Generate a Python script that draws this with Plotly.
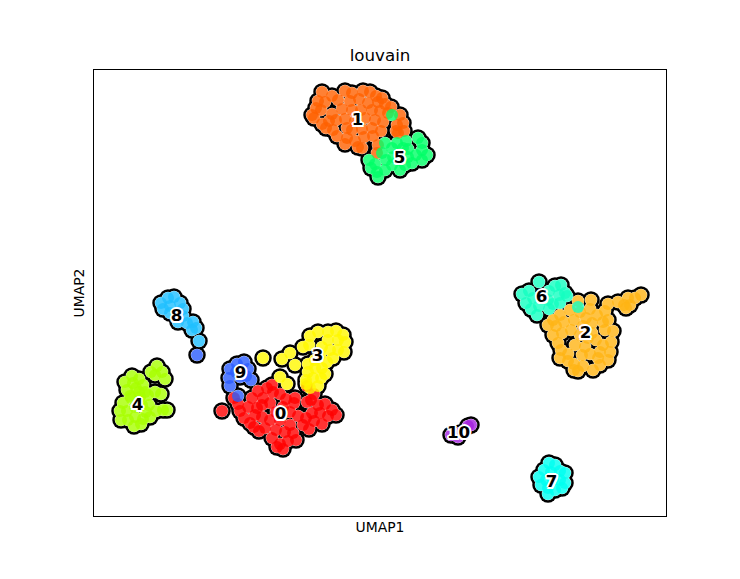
import plotly.graph_objects as go

# cluster points, as (UMAP1, UMAP2) in axis units
cluster_0 = [(234,398),(238,404),(240,411),(244,418),(250,423),(255,415),(248,407),(257,408),(252,398),(258,391),
             (267,388),(273,392),(263,398),(270,403),(262,405),(254,427),(262,417),(270,420),(265,428),(276,430),
             (272,438),(280,444),(283,449),(288,441),(296,440),(293,433),(285,432),(290,425),(280,420),(276,412),
             (283,407),(290,412),(298,416),(286,399),(294,403),(307,402),(311,400),(318,405),(325,404),
             (332,410),(336,415),(328,416),(320,413),(312,413),(306,418),(314,421),(322,424),(309,429),(303,425),
             (295,398),(280,394),(272,385),(222,411),(307,386),(314,394),(259,431),(277,447)]
cluster_1 = [(322,92),(332,96),(345,91),(352,93),(363,91),(370,92),(376,96),(318,101),(325,102),(338,100),
             (350,101),(359,99),(368,103),(378,102),(385,104),(391,107),(312,115),(321,110),(332,114),(342,109),
             (352,110),(361,110),(372,110),(380,111),(388,113),(314,118),(329,121),(336,120),(345,119),(355,121),
             (365,118),(375,120),(383,122),(326,128),(333,130),(347,128),(352,130),(362,129),(372,128),(381,131),
             (337,136),(347,138),(355,141),(364,137),(373,136),(362,148),(345,144),(358,147),(400,115),(403,123),
             (397,125),(404,131),(396,131),(377,153),(378,145),(398,133),(316,108),(322,124),(382,98)]
cluster_2 = [(641,295),(635,298),(628,298),(624,305),(630,305),(626,308),(618,302),(608,304),(605,311),(578,301),
             (591,300),(590,309),(597,315),(608,320),(603,322),(613,331),(605,330),(611,342),(603,345),(610,352),
             (608,360),(600,365),(593,370),(574,370),(560,358),(553,320),(560,315),(570,310),(580,312),(586,318),
             (548,325),(556,326),(564,322),(574,320),(583,326),(592,323),(553,335),(562,333),(571,330),(580,335),
             (588,338),(592,333),(558,343),(575,345),(585,347),(596,340),(600,352),(561,350),(568,354),
             (582,355),(590,354),(574,364),(583,366),(578,371),(598,358),(568,361)]
cluster_3 = [(263,358),(280,377),(287,384),(290,353),(282,359),(295,365),(310,336),(318,332),(328,332),(336,331),
             (343,335),(345,342),(338,340),(328,340),(309,345),(303,347),(322,347),(330,350),(338,350),(344,352),
             (333,358),(327,362),(320,355),(322,368),(315,368),(308,372),(306,380),(313,378),(321,378),(325,374),
             (318,386),(310,388),(306,384),(315,360),(308,364)]
cluster_4 = [(157,366),(151,372),(162,372),(165,379),(155,375),(125,382),(132,376),(139,379),(127,390),(136,388),
             (143,385),(145,392),(155,392),(161,394),(148,395),(149,405),(156,411),(163,410),(167,410),(146,412),
             (140,397),(131,398),(123,403),(120,411),(127,411),(135,407),(142,405),(121,420),(128,420),(135,417),
             (143,419),(150,417),(134,426),(141,424),(130,396),(139,392),(133,383)]
cluster_5 = [(369,160),(375,164),(377,172),(378,177),(385,170),(386,160),(382,153),(385,143),(392,148),(393,157),
             (392,165),(398,160),(400,170),(405,165),(408,157),(403,148),(408,149),(418,138),(422,143),(422,150),
             (427,155),(422,160),(416,155),(412,163),(371,168),(397,143),(406,141),(392,115)]
cluster_6 = [(539,282),(522,294),(529,291),(533,298),(526,303),(531,309),(537,315),(539,306),(541,298),(548,300),
             (549,291),(555,286),(561,285),(565,293),(559,295),(553,304),(549,309),(560,303),(567,296),(578,307)]
cluster_7 = [(549,463),(555,465),(544,470),(551,472),(560,471),(565,473),(539,477),(546,480),(553,480),(560,480),
             (565,483),(541,485),(548,488),(555,490),(562,488),(548,494)]
cluster_8 = [(161,303),(168,298),(174,297),(180,303),(183,309),(170,306),(163,309),(170,313),(176,316),(183,316),
             (187,323),(193,322),(196,328),(192,330),(178,322),(199,341)]
cluster_9 = [(230,369),(237,364),(244,362),(248,369),(236,372),(229,378),(230,386),(240,377),(251,380),(246,376),
             (238,396),(197,355)]
cluster_10 = [(451,435),(458,437),(460,433),(468,426),(471,425)]

clusters = [cluster_0, cluster_1, cluster_2, cluster_3, cluster_4, cluster_5,
            cluster_6, cluster_7, cluster_8, cluster_9, cluster_10]
cluster_names = ["0", "1", "2", "3", "4", "5", "6", "7", "8", "9", "10"]
cluster_colors = ["#ff0000", "#ff6000", "#ffb414", "#fff700", "#a8ff00", "#00ff66",
                  "#14ffc0", "#00fff0", "#1fbfff", "#2a5cff", "#a21fe0"]
label_x = [280.5, 357.5, 585.5, 317.5, 137.5, 399.5, 541.5, 551.5, 176.5, 240.5, 458.5]
label_y = [415, 121, 334, 357, 406, 159, 298, 483, 317, 374, 434]

all_x = [p[0] for c in clusters for p in c]
all_y = [p[1] for c in clusters for p in c]

# white halo round the labels
halo = ",".join(f"{dx}px {dy}px 0 white" for dx, dy in
                [(-2,0),(2,0),(0,-2),(0,2),(-1.5,-1.5),(1.5,-1.5),(1.5,1.5),(-1.5,1.5)])

fig = go.Figure()

# outline layers: black under white, then the coloured dots
fig.add_trace(go.Scatter(x=all_x, y=all_y, mode="markers", marker=dict(size=17.5, color="black", line_width=0)))
fig.add_trace(go.Scatter(x=all_x, y=all_y, mode="markers", marker=dict(size=12.5, color="white", line_width=0)))

for name, pts, col in zip(cluster_names, clusters, cluster_colors):
    fig.add_trace(go.Scatter(
        x=[p[0] for p in pts],
        y=[p[1] for p in pts],
        mode="markers",
        name=name,
        marker=dict(size=12, color=col, opacity=0.8, line_width=0),
    ))

fig.add_trace(go.Scatter(
    x=label_x,
    y=label_y,
    mode="text",
    text=cluster_names,
    textposition="middle center",
    textfont=dict(family="DejaVu Sans", size=16.7, color="black", weight="bold", shadow=halo),
))

fig.update_xaxes(
    range=[94, 666], showgrid=False, zeroline=False, showticklabels=False, ticks="",
    showline=True, linecolor="black", linewidth=1, mirror=True,
    title=dict(text="UMAP1", font=dict(size=13.9, color="black"), standoff=6),
)
fig.update_yaxes(
    range=[516, 70], showgrid=False, zeroline=False, showticklabels=False, ticks="",
    showline=True, linecolor="black", linewidth=1, mirror=True,
    title=dict(text="UMAP2", font=dict(size=13.9, color="black"), standoff=5),
)
fig.update_layout(
    width=740,
    height=579,
    margin=dict(l=94, r=74, t=70, b=63),
    title=dict(text="louvain", x=0.5, xanchor="center", xref="paper", y=0.895, yanchor="bottom",
               font=dict(size=16.7, color="black")),
    font=dict(family="DejaVu Sans"),
    showlegend=False,
    hovermode=False,
    plot_bgcolor="white",
    paper_bgcolor="white",
)

fig.write_html("out.html", config={"displayModeBar": False},
               post_script="document.body.style.margin = '0';")
